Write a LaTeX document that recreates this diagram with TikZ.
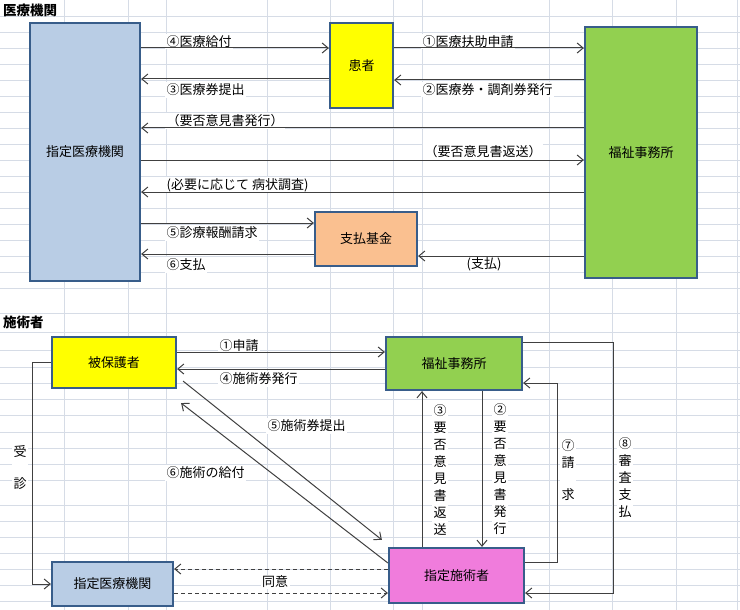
\documentclass[tikz,border=0pt]{standalone}
\usepackage{fontspec}
\setmainfont{Noto Sans CJK JP}
\usetikzlibrary{arrows.meta,calc}
\definecolor{bord}{HTML}{385D8A}
\definecolor{lblue}{HTML}{B9CDE5}
\definecolor{yel}{HTML}{FFFF00}
\definecolor{grn}{HTML}{92D050}
\definecolor{org}{HTML}{FAC090}
\definecolor{pnk}{HTML}{F07CDC}
\definecolor{gridc}{HTML}{D6DCE6}
\definecolor{linec}{HTML}{404040}
\begin{document}
\begin{tikzpicture}[x=1pt,y=-1pt,
 box/.style={draw=bord, line width=2.2pt, inner sep=0pt, font=\fontsize{13}{15}\selectfont},
 lbl/.style={fill=white, inner sep=1.5pt, font=\fontsize{13}{15}\selectfont},
 vlbl/.style={fill=white, inner sep=1.5pt, align=center, font=\fontsize{13}{17}\selectfont},
 ttl/.style={font=\fontsize{13.5}{15}\selectfont\bfseries, inner sep=0pt, anchor=west},
 arr/.style={draw=linec, line width=1pt, -{Straight Barb[length=6pt,width=10pt]}},
 dsh/.style={arr, dash pattern=on 4pt off 3pt},
 gridl/.style={draw=gridc, line width=0.8pt}
]
\fill[white] (0,0) rectangle (740,610);
\useasboundingbox (0,0) rectangle (740,610);
% spreadsheet grid
\foreach \gx in {64,128,166,267,330,393,422,549,612,676,737}
  \draw[gridl] (\gx,0) -- (\gx,610);
\foreach \gy in {16,32,...,288}
  \draw[gridl] (0,\gy) -- (740,\gy);
\foreach \gy in {313,332,350,367,383,399,415,432,448,464,480,505,521,537,553,569,585,601}
  \draw[gridl] (0,\gy) -- (740,\gy);

% titles
\node[ttl] (t1) at (3,10) {医療機関};
\node[ttl] (t2) at (3,322) {施術者};

% boxes top
\node[box, fill=lblue, minimum width=110pt, minimum height=258pt] (iryo) at (85,152) {指定医療機関};
\node[box, fill=yel, minimum width=63pt, minimum height=85pt] (kanja) at (361.5,65.5) {患者};
\node[box, fill=grn, minimum width=112pt, minimum height=251pt] (fuku1) at (641,152.5) {福祉事務所};
\node[box, fill=org, minimum width=102pt, minimum height=54pt] (kikin) at (366,239) {支払基金};
% boxes bottom
\node[box, fill=yel, minimum width=124pt, minimum height=51pt] (hiho) at (114,362.5) {被保護者};
\node[box, fill=grn, minimum width=136pt, minimum height=53pt] (fuku2) at (454,363.5) {福祉事務所};
\node[box, fill=lblue, minimum width=121pt, minimum height=44pt] (iryo2) at (112.5,584) {指定医療機関};
\node[box, fill=pnk, minimum width=135pt, minimum height=55pt] (seju) at (456.5,575.5) {指定施術者};

% labels top
\node[lbl, anchor=west] (l4) at (165,41.5) {④医療給付};
\node[lbl, anchor=west] (l3) at (165,90) {③医療券提出};
\node[lbl, anchor=west] (lh1) at (165,121) {（要否意見書発行）};
\node[lbl, anchor=west] (lh3) at (165,185) {(必要に応じて 病状調査)};
\node[lbl, anchor=west] (l5) at (165,233) {⑤診療報酬請求};
\node[lbl, anchor=west] (l6) at (165,265) {⑥支払};
\node[lbl, anchor=west] (l1) at (421,41.5) {①医療扶助申請};
\node[lbl, anchor=west] (l2) at (421,89.5) {②医療券・調剤券発行};
\node[lbl, anchor=west] (lh2) at (423,152) {（要否意見書返送）};
\node[lbl] (lshi) at (484,264) {(支払)};

% labels bottom
\node[lbl, anchor=west] (b1) at (218,346) {①申請};
\node[lbl, anchor=west] (b4) at (218,379) {④施術券発行};
\node[lbl, anchor=west] (b5) at (266,426) {⑤施術券提出};
\node[lbl, anchor=west] (b6) at (165,473) {⑥施術の給付};
\node[lbl] (bd) at (275,582) {同意};
\node[vlbl] (bju) at (20,468) {受\\[15pt]診};
\node[vlbl] (b3) at (440,470) {③\\要\\否\\意\\見\\書\\返\\送};
\node[vlbl] (b2) at (500,469) {②\\要\\否\\意\\見\\書\\発\\行};
\node[vlbl] (b7) at (568,470.5) {⑦\\請\\[15pt]求};
\node[vlbl] (b8) at (625,478) {⑧\\審\\査\\支\\払};

% connectors top
\draw[arr] (iryo.east |- 0,48) -- (kanja.west |- 0,48);
\draw[arr] (kanja.west |- 0,79) -- (iryo.east |- 0,79);
\draw[arr] (kanja.east |- 0,48) -- (fuku1.west |- 0,48);
\draw[arr] (fuku1.west |- 0,80) -- (kanja.east |- 0,80);
\draw[arr] (fuku1.west |- 0,128) -- (iryo.east |- 0,128);
\draw[arr] (iryo.east |- 0,160) -- (fuku1.west |- 0,160);
\draw[arr] (fuku1.west |- 0,192) -- (iryo.east |- 0,192);
\draw[arr] (iryo.east |- 0,223) -- (kikin.west |- 0,223);
\draw[arr] (kikin.west |- 0,254) -- (iryo.east |- 0,254);
\draw[arr] (fuku1.west |- 0,256) -- (kikin.east |- 0,256);

% connectors bottom
\draw[arr] (hiho.east |- 0,352) -- (fuku2.west |- 0,352);
\draw[arr] (fuku2.west |- 0,369) -- (hiho.east |- 0,369);
\draw[arr] ($(hiho.south east)+(6,-8)$) -- ($(seju.north west)+(-6,-7)$);
\draw[arr] (seju.west |- 0,563) -- ($(hiho.south east)+(4,14)$);
\draw[arr] (hiho.west) -- ++(-18,0) |- (iryo2.west);
\draw[dsh] (seju.west |- 0,569) -- (iryo2.east |- 0,569);
\draw[dsh] (iryo2.east |- 0,593) -- (seju.west |- 0,593);
\draw[arr] (seju.north -| 422,0) -- (fuku2.south -| 422,0);
\draw[arr] (fuku2.south -| 482,0) -- (seju.north -| 482,0);
\draw[arr] (seju.east |- 0,562) -- ++(32,0) |- (fuku2.east |- 0,383);
\draw[arr] (fuku2.east |- 0,342) -- ++(90,0) |- (seju.east |- 0,593);
\end{tikzpicture}
\end{document}
